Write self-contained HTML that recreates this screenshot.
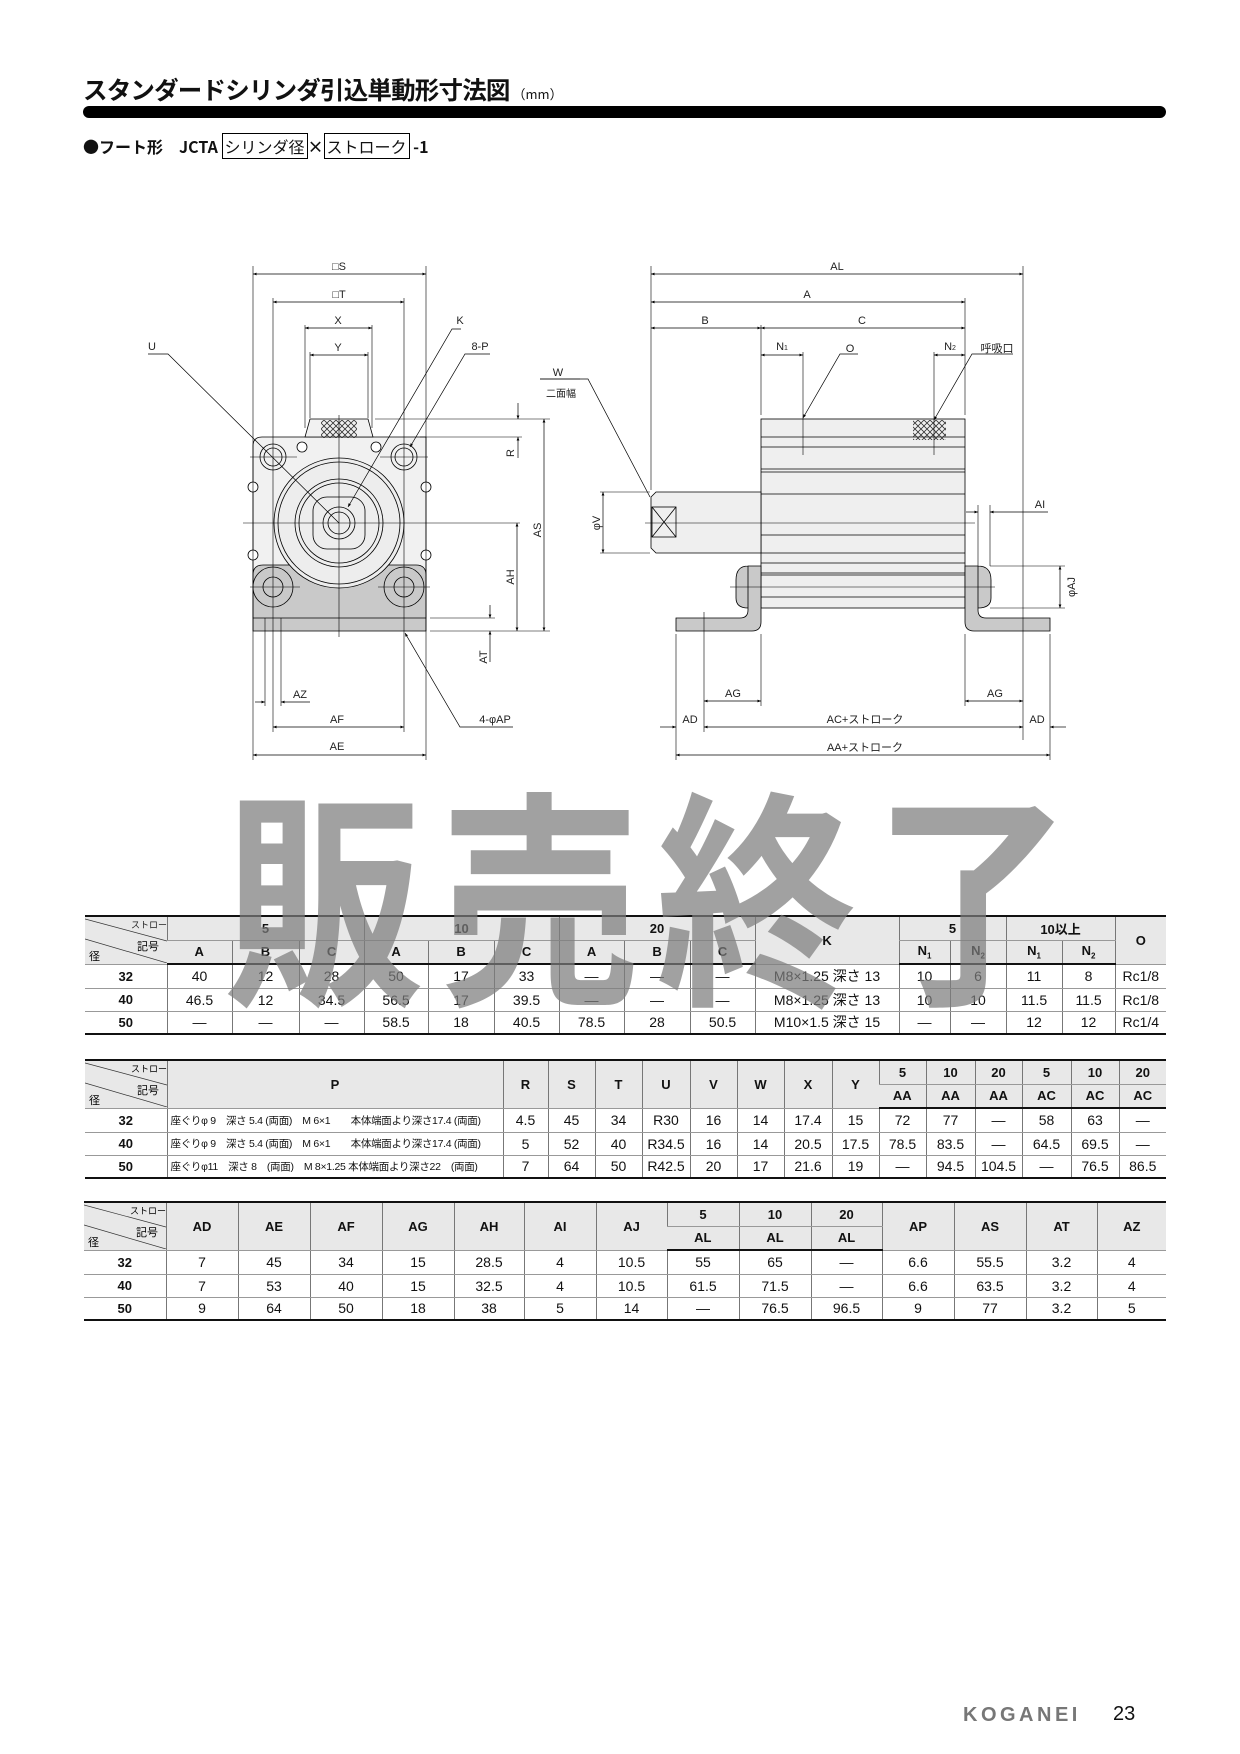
<!DOCTYPE html>
<html><head><meta charset="utf-8">
<style>
body{margin:0;background:#fff;}
#pg{position:relative;width:1240px;height:1754px;overflow:hidden;font-family:"Liberation Sans","Noto Sans CJK JP",sans-serif;color:#111;}
.abs{position:absolute;}
table{position:absolute;border-collapse:collapse;table-layout:fixed;font-size:14px;}
td{border-left:1px solid #777;border-bottom:1px solid #999;text-align:center;padding:0;white-space:nowrap;overflow:hidden;}
td:first-child{border-left:none;}
tr.h td{background:#e8e8e8;font-weight:bold;font-size:13px;}
tr.h2 td{border-bottom:2px solid #111;}
td.n{font-weight:bold;font-size:13px;}
td.l{text-align:left;padding-left:3px;font-size:10.5px;letter-spacing:-0.3px}
td.dg{background:#e8e8e8;position:relative;}
td.nb{font-weight:normal}
.wm{position:absolute;left:224px;top:772px;font-size:200px;font-weight:bold;color:rgba(125,125,125,0.72);letter-spacing:16px;font-family:"Noto Sans CJK JP",sans-serif;line-height:1;transform:scaleY(1.15);transform-origin:0 0;}
</style></head><body><div id="pg">
<div class="abs" style="left:83px;top:72px;font-size:24.5px;font-weight:bold;letter-spacing:-0.8px;font-family:'Noto Sans CJK JP',sans-serif;">スタンダードシリンダ引込単動形寸法図<span style="font-size:13px;letter-spacing:0;font-weight:normal"> （mm）</span></div>
<div class="abs" style="left:83px;top:106px;width:1083px;height:12px;background:#000;border-radius:6px;"></div>
<div class="abs" style="left:83px;top:134px;font-size:16px;font-weight:bold;font-family:'Noto Sans CJK JP',sans-serif;">●フート形　JCTA <span style="border:1px solid #000;padding:0 2px;font-weight:normal">シリンダ径</span>×<span style="border:1px solid #000;padding:0 2px;font-weight:normal">ストローク</span> -1</div>

<svg class="abs" style="left:0;top:0" width="1240" height="800" font-family="Liberation Sans, Noto Sans CJK JP, sans-serif" font-size="11" fill="#222">
<defs>
<marker id="a" viewBox="0 0 10 10" refX="10" refY="5" markerWidth="7" markerHeight="5" orient="auto-start-reverse"><path d="M0,1 L10,5 L0,9z" fill="#000"/></marker>
<pattern id="hx" width="6" height="6" patternUnits="userSpaceOnUse"><path d="M0,0L6,6M6,0L0,6" stroke="#333" stroke-width="0.8"/></pattern>
</defs>
<g stroke="#000" stroke-width="0.8" fill="none">
<path d="M253,446 Q253,437 262,437 L426,437 L426,618 L253,618Z" fill="#f1f1f1"/>
<path d="M305,437 L310,419 L368,419 L373,437Z" fill="#f1f1f1"/>
<rect x="321" y="420" width="36" height="18" fill="url(#hx)" stroke="none"/>
<path d="M253,575 Q253,565 263,565 L416,565 Q426,565 426,575 L426,631 L253,631Z" fill="#c9c9c9"/>
<line x1="253" y1="618" x2="426" y2="618"/>
<circle cx="339" cy="523" r="65" fill="#ededed"/>
<circle cx="339" cy="523" r="61"/>
<circle cx="339" cy="523" r="44"/>
<circle cx="339" cy="523" r="40"/>
<rect x="313" y="497" width="52" height="52" rx="14"/>
<circle cx="339" cy="523" r="16"/>
<circle cx="339" cy="523" r="11"/>
<circle cx="273" cy="457" r="13" fill="#f1f1f1"/><circle cx="273" cy="457" r="9"/>
<circle cx="404" cy="457" r="13" fill="#f1f1f1"/><circle cx="404" cy="457" r="9"/>
<circle cx="273" cy="587" r="20"/><circle cx="273" cy="587" r="10"/>
<circle cx="404" cy="587" r="20"/><circle cx="404" cy="587" r="10"/>
<g fill="#fff"><circle cx="253" cy="487" r="5"/><circle cx="426" cy="487" r="5"/><circle cx="253" cy="555" r="5"/><circle cx="426" cy="555" r="5"/><circle cx="302" cy="447" r="5"/><circle cx="376" cy="447" r="5"/></g>
<g stroke-width="0.6">
<line x1="339" y1="415" x2="339" y2="637"/><line x1="243" y1="523" x2="520" y2="523"/>
<line x1="250" y1="457" x2="297" y2="457"/><line x1="380" y1="457" x2="428" y2="457"/>
<line x1="250" y1="587" x2="300" y2="587"/><line x1="378" y1="587" x2="430" y2="587"/>
<line x1="253" y1="266" x2="253" y2="760"/><line x1="426" y1="266" x2="426" y2="760"/>
<line x1="273" y1="298" x2="273" y2="732"/><line x1="404" y1="298" x2="404" y2="732"/>
<line x1="305" y1="325" x2="305" y2="428"/><line x1="372" y1="325" x2="372" y2="428"/>
<line x1="310" y1="352" x2="310" y2="418"/><line x1="368" y1="352" x2="368" y2="418"/>
<line x1="265" y1="618" x2="265" y2="706"/><line x1="281" y1="618" x2="281" y2="706"/>
<line x1="375" y1="419" x2="550" y2="419"/><line x1="420" y1="437" x2="522" y2="437"/>
<line x1="430" y1="631" x2="550" y2="631"/><line x1="430" y1="618" x2="495" y2="618"/>
<line x1="540" y1="379" x2="580" y2="379"/>
</g>
<g stroke-width="0.7">
<line x1="253" y1="274" x2="426" y2="274" marker-start="url(#a)" marker-end="url(#a)"/>
<line x1="273" y1="302" x2="404" y2="302" marker-start="url(#a)" marker-end="url(#a)"/>
<line x1="305" y1="328" x2="372" y2="328" marker-start="url(#a)" marker-end="url(#a)"/>
<line x1="310" y1="355" x2="368" y2="355" marker-start="url(#a)" marker-end="url(#a)"/>
<line x1="273" y1="727" x2="404" y2="727" marker-start="url(#a)" marker-end="url(#a)"/>
<line x1="253" y1="755" x2="426" y2="755" marker-start="url(#a)" marker-end="url(#a)"/>
<line x1="544" y1="419" x2="544" y2="631" marker-start="url(#a)" marker-end="url(#a)"/>
<line x1="517" y1="523" x2="517" y2="631" marker-start="url(#a)" marker-end="url(#a)"/>
<line x1="518" y1="403" x2="518" y2="419" marker-end="url(#a)"/><line x1="518" y1="458" x2="518" y2="437" marker-end="url(#a)"/>
<line x1="490" y1="605" x2="490" y2="618" marker-end="url(#a)"/><line x1="490" y1="662" x2="490" y2="631" marker-end="url(#a)"/>
<line x1="255" y1="702" x2="265" y2="702" marker-end="url(#a)"/><line x1="310" y1="702" x2="281" y2="702" marker-end="url(#a)"/>
<polyline points="148,354 168,354 339,523"/>
<polyline points="461,329 452,329 348,507" marker-end="url(#a)"/>
<polyline points="490,354 465,354 410,447" marker-end="url(#a)"/>
<polyline points="513,727 460,727 405,633" marker-end="url(#a)"/>
<polyline points="540,379 588,379 650,497"/>
</g>
<rect x="761" y="419" width="204" height="189" fill="#efefef"/>
<g stroke-width="0.7">
<line x1="761" y1="437" x2="965" y2="437"/><line x1="761" y1="447" x2="965" y2="447"/>
<line x1="761" y1="469" x2="965" y2="469"/><line x1="761" y1="472" x2="965" y2="472"/>
<line x1="761" y1="494" x2="965" y2="494"/><line x1="761" y1="535" x2="965" y2="535"/>
<line x1="761" y1="553" x2="965" y2="553"/><line x1="761" y1="563" x2="965" y2="563"/>
<line x1="761" y1="573" x2="965" y2="573"/><line x1="761" y1="575" x2="965" y2="575"/>
<line x1="761" y1="597" x2="965" y2="597"/>
</g>
<rect x="913" y="420" width="33" height="20" fill="url(#hx)" stroke="none"/>
<path d="M656,492 L761,492 L761,553 L656,553 L651,548 L651,497Z" fill="#efefef"/>
<rect x="652" y="507" width="24" height="30"/><path d="M652,507L676,537M676,507L652,537"/>
<path d="M748,566 L761,566 L761,622 Q761,631 752,631 L676,631 L676,618 L740,618 Q748,618 748,610Z M748,566 Q736,566 736,580 L736,598 Q736,608 748,608" fill="#c9c9c9"/>
<path d="M978,566 L965,566 L965,622 Q965,631 974,631 L1050,631 L1050,618 L986,618 Q978,618 978,610Z M978,566 Q991,566 991,580 L991,598 Q991,608 978,608" fill="#c9c9c9"/>
<g stroke-width="0.6">
<line x1="645" y1="523" x2="975" y2="523"/><line x1="730" y1="587" x2="995" y2="587"/>
<line x1="651" y1="266" x2="651" y2="490"/>
<line x1="761" y1="325" x2="761" y2="415"/><line x1="761" y1="634" x2="761" y2="706"/>
<line x1="965" y1="298" x2="965" y2="415"/><line x1="965" y1="634" x2="965" y2="706"/>
<line x1="1023" y1="266" x2="1023" y2="740"/>
<line x1="676" y1="634" x2="676" y2="760"/><line x1="1050" y1="634" x2="1050" y2="760"/>
<line x1="704" y1="612" x2="704" y2="732"/>
<line x1="803" y1="352" x2="803" y2="455"/><line x1="934" y1="352" x2="934" y2="455"/>
<line x1="600" y1="492" x2="650" y2="492"/><line x1="600" y1="553" x2="650" y2="553"/>
<line x1="978" y1="505" x2="978" y2="566"/><line x1="990" y1="505" x2="990" y2="566"/>
<line x1="990" y1="566" x2="1065" y2="566"/><line x1="990" y1="608" x2="1065" y2="608"/>
</g>
<g stroke-width="0.7">
<line x1="651" y1="274" x2="1023" y2="274" marker-start="url(#a)" marker-end="url(#a)"/>
<line x1="651" y1="302" x2="965" y2="302" marker-start="url(#a)" marker-end="url(#a)"/>
<line x1="651" y1="328" x2="761" y2="328" marker-start="url(#a)" marker-end="url(#a)"/>
<line x1="761" y1="328" x2="965" y2="328" marker-start="url(#a)" marker-end="url(#a)"/>
<line x1="761" y1="355" x2="803" y2="355" marker-start="url(#a)" marker-end="url(#a)"/>
<line x1="934" y1="355" x2="965" y2="355" marker-start="url(#a)" marker-end="url(#a)"/>
<line x1="603" y1="492" x2="603" y2="553" marker-start="url(#a)" marker-end="url(#a)"/>
<line x1="704" y1="701" x2="761" y2="701" marker-start="url(#a)" marker-end="url(#a)"/>
<line x1="965" y1="701" x2="1023" y2="701" marker-start="url(#a)" marker-end="url(#a)"/>
<line x1="704" y1="727" x2="1023" y2="727" marker-start="url(#a)" marker-end="url(#a)"/>
<line x1="660" y1="727" x2="676" y2="727" marker-end="url(#a)"/><line x1="1066" y1="727" x2="1050" y2="727" marker-end="url(#a)"/>
<line x1="676" y1="755" x2="1050" y2="755" marker-start="url(#a)" marker-end="url(#a)"/>
<line x1="966" y1="512" x2="978" y2="512" marker-end="url(#a)"/><line x1="1048" y1="512" x2="990" y2="512" marker-end="url(#a)"/>
<line x1="1060" y1="566" x2="1060" y2="608" marker-start="url(#a)" marker-end="url(#a)"/>
<polyline points="858,354 840,354 803,418" marker-end="url(#a)"/>
<polyline points="1013,354 972,354 934,420" marker-end="url(#a)"/>
</g>
</g>
<g text-anchor="middle" font-size="11">
<text x="339" y="270">□S</text><text x="339" y="298">□T</text><text x="338" y="324">X</text><text x="338" y="351">Y</text>
<text x="152" y="350">U</text><text x="460" y="324">K</text><text x="480" y="350">8-P</text>
<text x="558" y="376">W</text><text x="561" y="397" font-size="10">二面幅</text>
<text x="300" y="698">AZ</text><text x="337" y="723">AF</text><text x="337" y="750">AE</text><text x="495" y="723">4-φAP</text>
<text transform="translate(514,453) rotate(-90)">R</text>
<text transform="translate(541,530) rotate(-90)">AS</text>
<text transform="translate(514,577) rotate(-90)">AH</text>
<text transform="translate(487,657) rotate(-90)">AT</text>
<text x="837" y="270">AL</text><text x="807" y="298">A</text><text x="705" y="324">B</text><text x="862" y="324">C</text>
<text x="782" y="350">N<tspan font-size="7">1</tspan></text><text x="850" y="352">O</text><text x="950" y="350">N<tspan font-size="7">2</tspan></text>
<text x="997" y="352" font-size="11">呼吸口</text>
<text x="1040" y="508">AI</text>
<text transform="translate(600,523) rotate(-90)">φV</text>
<text transform="translate(1075,587) rotate(-90)">φAJ</text>
<text x="733" y="697">AG</text><text x="995" y="697">AG</text>
<text x="690" y="723">AD</text><text x="865" y="723">AC+ストローク</text><text x="1037" y="723">AD</text>
<text x="865" y="751">AA+ストローク</text>
</g>
</svg>

<table style="left:85px;top:915px;width:1081px;border-top:2px solid #111;border-bottom:2px solid #111;">
<colgroup><col style="width:82px"><col style="width:65px"><col style="width:67px"><col style="width:65px"><col style="width:64px"><col style="width:66px"><col style="width:65px"><col style="width:65px"><col style="width:66px"><col style="width:65px"><col style="width:144px"><col style="width:51px"><col style="width:56px"><col style="width:56px"><col style="width:53px"><col style="width:51px"></colgroup>
<tr class="h" style="height:24px"><td rowspan="2" class="dg"><svg width="82" height="46" style="position:absolute;left:0;top:0"><line x1="0" y1="2" x2="82" y2="24" stroke="#333" stroke-width="0.7"/><line x1="0" y1="22" x2="82" y2="46" stroke="#333" stroke-width="0.7"/><text x="46" y="11" font-size="9" font-weight="normal" fill="#222">ストローク</text><text x="52" y="33" font-size="11" font-weight="normal">記号</text><text x="4" y="43" font-size="11" font-weight="normal">径</text></svg></td><td colspan="3" class="nb">5</td><td colspan="3" class="nb">10</td><td colspan="3" class="nb">20</td><td rowspan="2">K</td><td colspan="2" class="nb">5</td><td colspan="2" class="nb">10以上</td><td rowspan="2">O</td></tr>
<tr class="h h2" style="height:24px"><td>A</td><td>B</td><td>C</td><td>A</td><td>B</td><td>C</td><td>A</td><td>B</td><td>C</td><td>N<sub style="font-size:8px">1</sub></td><td>N<sub style="font-size:8px">2</sub></td><td>N<sub style="font-size:8px">1</sub></td><td>N<sub style="font-size:8px">2</sub></td></tr>
<tr style="height:24px"><td class="n">32</td><td>40</td><td>12</td><td>28</td><td>50</td><td>17</td><td>33</td><td>—</td><td>—</td><td>—</td><td>M8×1.25 深さ 13</td><td>10</td><td>6</td><td>11</td><td>8</td><td>Rc1/8</td></tr>
<tr style="height:23px"><td class="n">40</td><td>46.5</td><td>12</td><td>34.5</td><td>56.5</td><td>17</td><td>39.5</td><td>—</td><td>—</td><td>—</td><td>M8×1.25 深さ 13</td><td>10</td><td>10</td><td>11.5</td><td>11.5</td><td>Rc1/8</td></tr>
<tr style="height:23px"><td class="n">50</td><td>—</td><td>—</td><td>—</td><td>58.5</td><td>18</td><td>40.5</td><td>78.5</td><td>28</td><td>50.5</td><td>M10×1.5 深さ 15</td><td>—</td><td>—</td><td>12</td><td>12</td><td>Rc1/4</td></tr>
</table>

<table style="left:85px;top:1059px;width:1081px;border-top:2px solid #111;border-bottom:2px solid #111;">
<colgroup><col style="width:82px"><col style="width:336px"><col style="width:45px"><col style="width:47px"><col style="width:47px"><col style="width:48px"><col style="width:47px"><col style="width:47px"><col style="width:48px"><col style="width:47px"><col style="width:47px"><col style="width:49px"><col style="width:47px"><col style="width:49px"><col style="width:48px"><col style="width:47px"></colgroup>
<tr class="h" style="height:24px"><td rowspan="2" class="dg"><svg width="82" height="46" style="position:absolute;left:0;top:0"><line x1="0" y1="2" x2="82" y2="24" stroke="#333" stroke-width="0.7"/><line x1="0" y1="22" x2="82" y2="46" stroke="#333" stroke-width="0.7"/><text x="46" y="11" font-size="9" font-weight="normal">ストローク</text><text x="52" y="33" font-size="11" font-weight="normal">記号</text><text x="4" y="43" font-size="11" font-weight="normal">径</text></svg></td><td rowspan="2">P</td><td rowspan="2">R</td><td rowspan="2">S</td><td rowspan="2">T</td><td rowspan="2">U</td><td rowspan="2">V</td><td rowspan="2">W</td><td rowspan="2">X</td><td rowspan="2">Y</td><td class="nb">5</td><td class="nb">10</td><td class="nb">20</td><td class="nb">5</td><td class="nb">10</td><td class="nb">20</td></tr>
<tr class="h h2" style="height:24px"><td>AA</td><td>AA</td><td>AA</td><td>AC</td><td>AC</td><td>AC</td></tr>
<tr style="height:24px"><td class="n">32</td><td class="l">座ぐりφ 9　深さ 5.4 (両面)　M 6×1　　本体端面より深さ17.4 (両面)</td><td>4.5</td><td>45</td><td>34</td><td>R30</td><td>16</td><td>14</td><td>17.4</td><td>15</td><td>72</td><td>77</td><td>—</td><td>58</td><td>63</td><td>—</td></tr>
<tr style="height:23px"><td class="n">40</td><td class="l">座ぐりφ 9　深さ 5.4 (両面)　M 6×1　　本体端面より深さ17.4 (両面)</td><td>5</td><td>52</td><td>40</td><td>R34.5</td><td>16</td><td>14</td><td>20.5</td><td>17.5</td><td>78.5</td><td>83.5</td><td>—</td><td>64.5</td><td>69.5</td><td>—</td></tr>
<tr style="height:23px"><td class="n">50</td><td class="l">座ぐりφ11　深さ 8　(両面)　M 8×1.25 本体端面より深さ22　(両面)</td><td>7</td><td>64</td><td>50</td><td>R42.5</td><td>20</td><td>17</td><td>21.6</td><td>19</td><td>—</td><td>94.5</td><td>104.5</td><td>—</td><td>76.5</td><td>86.5</td></tr>
</table>

<table style="left:84px;top:1201px;width:1082px;border-top:2px solid #111;border-bottom:2px solid #111;">
<colgroup><col style="width:82px"><col style="width:72px"><col style="width:72px"><col style="width:72px"><col style="width:72px"><col style="width:70px"><col style="width:72px"><col style="width:71px"><col style="width:72px"><col style="width:72px"><col style="width:71px"><col style="width:72px"><col style="width:72px"><col style="width:71px"><col style="width:69px"></colgroup>
<tr class="h" style="height:24px"><td rowspan="2" class="dg"><svg width="82" height="46" style="position:absolute;left:0;top:0"><line x1="0" y1="2" x2="82" y2="24" stroke="#333" stroke-width="0.7"/><line x1="0" y1="22" x2="82" y2="46" stroke="#333" stroke-width="0.7"/><text x="46" y="11" font-size="9" font-weight="normal">ストローク</text><text x="52" y="33" font-size="11" font-weight="normal">記号</text><text x="4" y="43" font-size="11" font-weight="normal">径</text></svg></td><td rowspan="2">AD</td><td rowspan="2">AE</td><td rowspan="2">AF</td><td rowspan="2">AG</td><td rowspan="2">AH</td><td rowspan="2">AI</td><td rowspan="2">AJ</td><td class="nb">5</td><td class="nb">10</td><td class="nb">20</td><td rowspan="2">AP</td><td rowspan="2">AS</td><td rowspan="2">AT</td><td rowspan="2">AZ</td></tr>
<tr class="h h2" style="height:24px"><td>AL</td><td>AL</td><td>AL</td></tr>
<tr style="height:24px"><td class="n">32</td><td>7</td><td>45</td><td>34</td><td>15</td><td>28.5</td><td>4</td><td>10.5</td><td>55</td><td>65</td><td>—</td><td>6.6</td><td>55.5</td><td>3.2</td><td>4</td></tr>
<tr style="height:23px"><td class="n">40</td><td>7</td><td>53</td><td>40</td><td>15</td><td>32.5</td><td>4</td><td>10.5</td><td>61.5</td><td>71.5</td><td>—</td><td>6.6</td><td>63.5</td><td>3.2</td><td>4</td></tr>
<tr style="height:23px"><td class="n">50</td><td>9</td><td>64</td><td>50</td><td>18</td><td>38</td><td>5</td><td>14</td><td>—</td><td>76.5</td><td>96.5</td><td>9</td><td>77</td><td>3.2</td><td>5</td></tr>
</table>

<div class="wm">販売終了</div>

<div class="abs" style="left:963px;top:1704px;font-size:20px;color:#777;letter-spacing:3.5px;font-weight:bold;">KOGANEI</div>
<div class="abs" style="left:1113px;top:1703px;font-size:20px;color:#111;">23</div>
</div></body></html>
